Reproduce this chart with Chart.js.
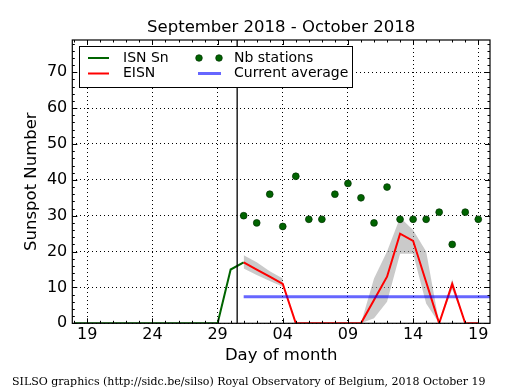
<!DOCTYPE html>
<html>
<head>
<meta charset="utf-8">
<script src="https://cdn.jsdelivr.net/npm/chart.js@4.4.0/dist/chart.umd.min.js"></script>
<style>
  html, body { margin: 0; padding: 0; background: #fff; }
  canvas { display: block; }
</style>
</head>
<body>
<canvas id="chart" width="515" height="390"></canvas>
<script>
'use strict';

// x values are days counted from Sep 19 (Sep 18 = -1, Oct 1 = 12, Oct 19 = 30)
const tickDays = [0, 5, 10, 15, 20, 25, 30]
const tickLabels = ['19', '24', '29', '04', '09', '14', '19']
const yTicks = [0, 10, 20, 30, 40, 50, 60, 70]

const isnDays = [-1, 0, 1, 2, 3, 4, 5, 6, 7, 8, 9, 10, 11, 12]
const isnSn = [0, 0, 0, 0, 0, 0, 0, 0, 0, 0, 0, 0, 15, 17]

const octDays = [12, 13, 14, 15, 16, 17, 18, 19, 20, 21, 22, 23, 24, 25, 26, 27, 28, 29, 30]
const eisn = [17, 15, 13, 11, 0, 0, 0, 0, 0, 0, 6.5, 13, 25, 23, 11.5, 0, 11, 0, 0]
const eisnHigh = [19, 17, 14.5, 12.5, null, null, null, null, null, 0, 12.5, 20, 29.5, 26, 20, 0, 12.3, 0, 0]
const eisnLow = [15.3, 13.5, 11.8, 10.2, null, null, null, null, null, 0, 1.4, 6, 19.4, 19.4, 5.5, 0, 9.5, 0, 0]
const nbStations = [30, 28, 36, 27, 41, 29, 29, 36, 39, 35, 28, 38, 29, 29, 29, 31, 22, 31, 29]

const avgDays = [12, 31]
const currentAverage = 7.4
const monthStart = 11.5

const pts = (xs, ys) => xs.map((x, i) => ({ x: x, y: ys[i] }))

Chart.defaults.font.family = '"DejaVu Sans"'
Chart.defaults.font.size = 16
Chart.defaults.color = '#000'

const frame = {
    id: 'frame',
    afterDraw(chart) {
        const { ctx, chartArea: a, scales: { x, y } } = chart
        ctx.save()
        ctx.strokeStyle = '#000'
        ctx.lineWidth = 1
        ctx.beginPath()
        for (let d = Math.ceil(x.min); d <= x.max; d++) {
            const px = Math.round(x.getPixelForValue(d)) + 0.5
            const len = tickDays.includes(d) ? 5 : 2.5
            ctx.moveTo(px, a.bottom); ctx.lineTo(px, a.bottom - len)
            ctx.moveTo(px, a.top); ctx.lineTo(px, a.top + len)
        }
        for (let v = 0; v <= y.max; v += 2) {
            const py = Math.round(y.getPixelForValue(v)) + 0.5
            const len = v % 10 === 0 ? 5 : 2.5
            ctx.moveTo(a.left, py); ctx.lineTo(a.left + len, py)
            ctx.moveTo(a.right, py); ctx.lineTo(a.right - len, py)
        }
        ctx.stroke()
        ctx.lineWidth = 1.2
        ctx.strokeRect(a.left, a.top, a.right - a.left, a.bottom - a.top)

        // title
        ctx.fillStyle = '#000'
        ctx.font = '16.5px "DejaVu Sans"'
        ctx.textAlign = 'center'
        ctx.textBaseline = 'alphabetic'
        ctx.fillText('September 2018 - October 2018', (a.left + a.right) / 2, 32)

        // legend
        ctx.fillStyle = '#fff'
        ctx.fillRect(79.5, 46.5, 273, 41)
        ctx.lineWidth = 1
        ctx.strokeRect(79.5, 46.5, 273, 41)
        ctx.lineWidth = 2
        ctx.strokeStyle = '#006400'
        ctx.beginPath(); ctx.moveTo(88, 58); ctx.lineTo(109, 58); ctx.stroke()
        ctx.strokeStyle = '#ff0000'
        ctx.beginPath(); ctx.moveTo(88, 73.5); ctx.lineTo(109, 73.5); ctx.stroke()
        ctx.lineWidth = 3
        ctx.strokeStyle = 'rgba(0, 0, 255, 0.6)'
        ctx.beginPath(); ctx.moveTo(198, 73.5); ctx.lineTo(221, 73.5); ctx.stroke()
        ctx.fillStyle = '#006400'
        ctx.strokeStyle = '#003000'
        ctx.lineWidth = 0.7
        for (const cx of [199, 219]) {
            ctx.beginPath(); ctx.arc(cx, 58, 3.3, 0, Math.PI * 2); ctx.fill(); ctx.stroke()
        }
        ctx.fillStyle = '#000'
        ctx.font = '14px "DejaVu Sans"'
        ctx.textAlign = 'left'
        ctx.textBaseline = 'middle'
        ctx.fillText('ISN Sn', 123, 58)
        ctx.fillText('EISN', 123, 73.5)
        ctx.fillText('Nb stations', 234, 58)
        ctx.fillText('Current average', 234, 73.5)

        // footer
        ctx.font = '11px "DejaVu Serif"'
        ctx.textBaseline = 'alphabetic'
        ctx.fillText('SILSO graphics (http://sidc.be/silso) Royal Observatory of Belgium, 2018 October 19', 12, 385)
        ctx.restore()
    }
}

const ctx = document.getElementById('chart').getContext('2d')
const chart = new Chart(ctx, {
    type: 'line',
    data: {
        datasets: [
            {
                label: 'Nb stations',
                data: pts(octDays, nbStations),
                showLine: false,
                pointRadius: 3.4,
                backgroundColor: '#006400',
                borderColor: '#003000',
                borderWidth: 0.7,
            },
            {
                label: 'Current average',
                data: pts(avgDays, avgDays.map(() => currentAverage)),
                borderColor: 'rgba(0, 0, 255, 0.6)',
                borderWidth: 3,
                pointRadius: 0,
            },
            {
                label: 'month',
                data: [{ x: monthStart, y: 0 }, { x: monthStart, y: 79 }],
                borderColor: '#000',
                borderWidth: 1.3,
                pointRadius: 0,
            },
            {
                label: 'EISN',
                data: pts(octDays, eisn),
                borderColor: '#ff0000',
                borderWidth: 2,
                pointRadius: 0,
            },
            {
                label: 'ISN Sn',
                data: pts(isnDays, isnSn),
                borderColor: '#006400',
                borderWidth: 2,
                pointRadius: 0,
            },
            {
                label: 'high',
                data: pts(octDays, eisnHigh),
                borderWidth: 0,
                pointRadius: 0,
                fill: '+1',
                backgroundColor: 'rgba(150, 150, 150, 0.5)',
            },
            {
                label: 'low',
                data: pts(octDays, eisnLow),
                borderWidth: 0,
                pointRadius: 0,
            },
        ]
    },
    options: {
        responsive: false,
        devicePixelRatio: 1,
        animation: false,
        layout: { padding: { left: 0, top: 40, right: 25, bottom: 20 } },
        plugins: {
            legend: { display: false },
            tooltip: { enabled: false },
        },
        scales: {
            x: {
                type: 'linear',
                min: -1.15,
                max: 30.9,
                afterBuildTicks: (s) => { s.ticks = tickDays.map((v) => ({ value: v })) },
                afterFit: (s) => { s.height = 46.7 },
                ticks: {
                    callback: (v) => tickLabels[tickDays.indexOf(v)],
                    padding: 2,
                    maxRotation: 0,
                    autoSkip: false,
                },
                grid: { color: '#000', lineWidth: 1, drawTicks: false },
                border: { display: false, dash: [1, 3] },
                title: { display: true, text: 'Day of month', font: { size: 16.5 }, padding: { top: 0, bottom: 4 } },
            },
            y: {
                min: 0,
                max: 79,
                afterBuildTicks: (s) => { s.ticks = yTicks.map((v) => ({ value: v })) },
                afterFit: (s) => { s.width = 72.3 },
                ticks: { padding: 5 },
                grid: { color: '#000', lineWidth: 1, drawTicks: false },
                border: { display: false, dash: [1, 3] },
                title: { display: true, text: 'Sunspot Number', font: { size: 16.5 }, padding: { top: 22, bottom: 0 } },
            }
        }
    },
    plugins: [frame]
});
</script>
</body>
</html>
